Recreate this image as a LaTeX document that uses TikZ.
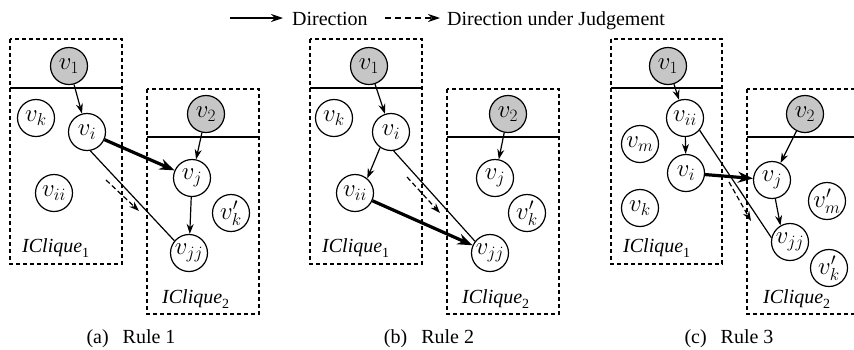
\documentclass[tikz,border=0pt]{standalone}
\usepackage{fontspec}
\setmainfont{Liberation Serif}
\usetikzlibrary{arrows.meta}

% clique label: italic name with upright index
\newcommand{\iclq}[1]{\textit{IClique}\raisebox{-0.28em}{\fontsize{14}{14}\selectfont #1}}

\tikzset{
  vertex/.style={circle, draw, line width=1.2pt, minimum size=37pt, inner sep=0pt,
                 fill=white, font=\fontsize{23}{26}\selectfont},
  seed/.style={vertex, fill=gray!45},
  clique/.style={draw, line width=1.2pt, dash pattern=on 4pt off 3pt},
  divider/.style={draw, line width=1.2pt},
  thinarr/.style={line width=1.2pt, -{Stealth[length=10pt,width=7pt]}},
  thickarr/.style={line width=3.2pt, -{Stealth[length=15pt,width=11pt]}},
  plainline/.style={line width=1.2pt},
  judgearr/.style={line width=1.2pt, dash pattern=on 5pt off 3pt, -{Stealth[length=10pt,width=7pt]}},
  cliquelabel/.style={anchor=base west, inner sep=0pt, font=\fontsize{20}{24}\selectfont},
  caption/.style={anchor=base, inner sep=0pt, font=\fontsize{20}{24}\selectfont},
  legendtext/.style={anchor=base west, inner sep=0pt, font=\fontsize{20}{24}\selectfont}
}

\begin{document}
\begin{tikzpicture}[x=1pt, y=-1pt]
\useasboundingbox (0,0) rectangle (854,349);
\clip (0,0) rectangle (854,349);

% ---------- legend ----------
\coordinate (l1a) at (230,18);
\coordinate (l1b) at (283,18);
\draw[line width=1.2pt, -{Stealth[length=12pt,width=8pt]}] (l1a) -- (l1b);
\node[legendtext] (ltxt1) at (292,25) {Direction};
\coordinate (l2a) at (385,18);
\coordinate (l2b) at (440,18);
\draw[line width=1.2pt, dash pattern=on 6pt off 4pt, -{Stealth[length=12pt,width=8pt]}] (l2a) -- (l2b);
\node[legendtext] (ltxt2) at (447,25) {Direction under Judgement};

% ---------- (a) Rule 1 ----------
\draw[clique] (10,39) rectangle (122,264);
\draw[divider] (10,88) -- (122,88);
\draw[clique] (147,89) rectangle (259,314);
\draw[divider] (147,137) -- (259,137);

\node[seed]   (a1)   at (69,66)   {$v_1$};
\node[vertex] (ak)   at (36,118)  {$v_k$};
\node[vertex] (ai)   at (87,132)  {$v_i$};
\node[vertex] (aii)  at (54,193)  {$v_{ii}$};
\node[seed]   (a2)   at (206,114) {$v_2$};
\node[vertex] (aj)   at (192,178) {$v_j$};
\node[vertex] (akp)  at (231,213) {$v'_k$};
\node[vertex] (ajj)  at (189,253) {$v_{jj}$};

\draw[thinarr]  (a1) -- (ai);
\draw[thickarr] (ai) -- (aj);
\draw[thinarr]  (a2) -- (aj);
\draw[thinarr]  (aj) -- (ajj);
\draw[plainline] (ai.-80) -- (ajj.140);
\coordinate (ad1) at (106,180);
\coordinate (ad2) at (139,211);
\draw[judgearr] (ad1) -- (ad2);

\node[cliquelabel] (al1) at (22,252) {\iclq{1}};
\node[cliquelabel] (al2) at (162,303) {\iclq{2}};
\node[caption] (acap) at (131,343) {(a)\hspace{0.7em}Rule 1};

% ---------- (b) Rule 2 ----------
\draw[clique] (310,39) rectangle (422,264);
\draw[divider] (310,88) -- (422,88);
\draw[clique] (447,89) rectangle (559,314);
\draw[divider] (447,137) -- (559,137);

\node[seed]   (b1)   at (369,66)  {$v_1$};
\node[vertex] (bk)   at (334,118) {$v_k$};
\node[vertex] (bi)   at (391,132) {$v_i$};
\node[vertex] (bii)  at (355,193) {$v_{ii}$};
\node[seed]   (b2)   at (508,114) {$v_2$};
\node[vertex] (bj)   at (495,178) {$v_j$};
\node[vertex] (bkp)  at (527,213) {$v'_k$};
\node[vertex] (bjj)  at (490,253) {$v_{jj}$};

\draw[thinarr]  (b1) -- (bi);
\draw[thinarr]  (bi.235) -- (bii.50);
\draw[thinarr]  (b2) -- (bj);
\draw[thickarr] (bii) -- (bjj);
\draw[plainline] (bi.-82) -- (bjj.142);
\coordinate (bd1) at (407,177);
\coordinate (bd2) at (440,213);
\draw[judgearr] (bd1) -- (bd2);

\node[cliquelabel] (bl1) at (322,252) {\iclq{1}};
\node[cliquelabel] (bl2) at (462,303) {\iclq{2}};
\node[caption] (bcap) at (429,343) {(b)\hspace{0.7em}Rule 2};

% ---------- (c) Rule 3 ----------
\draw[clique] (611,39) rectangle (722,264);
\draw[divider] (611,88) -- (722,88);
\draw[clique] (747,89) rectangle (870,314);
\draw[divider] (747,137) -- (870,137);

\node[seed]   (c1)   at (668,66)  {$v_1$};
\node[vertex] (cii)  at (685,118) {$v_{ii}$};
\node[vertex] (cm)   at (640,144) {$v_m$};
\node[vertex] (ci)   at (686,173) {$v_i$};
\node[vertex] (ck)   at (640,208) {$v_k$};
\node[seed]   (c2)   at (805,114) {$v_2$};
\node[vertex] (cj)   at (772,180) {$v_j$};
\node[vertex] (cmp)  at (827,201) {$v'_m$};
\node[vertex] (cjj)  at (790,242) {$v_{jj}$};
\node[vertex] (ckp)  at (829,268) {$v'_k$};

\draw[thinarr]  (c1) -- (cii);
\draw[thinarr]  (cii) -- (ci);
\draw[thickarr] (ci) -- (cj);
\draw[thinarr]  (c2) -- (cj);
\draw[thinarr]  (cj.-80) -- (cjj.120);
\draw[plainline] (cii.-40) -- (cjj.167);
\coordinate (cd1) at (729,182);
\coordinate (cd2) at (751,221);
\draw[judgearr] (cd1) -- (cd2);

\node[cliquelabel] (cl1) at (623,252) {\iclq{1}};
\node[cliquelabel] (cl2) at (763,303) {\iclq{2}};
\node[caption] (ccap) at (729,343) {(c)\hspace{0.7em}Rule 3};
\end{tikzpicture}
\end{document}
